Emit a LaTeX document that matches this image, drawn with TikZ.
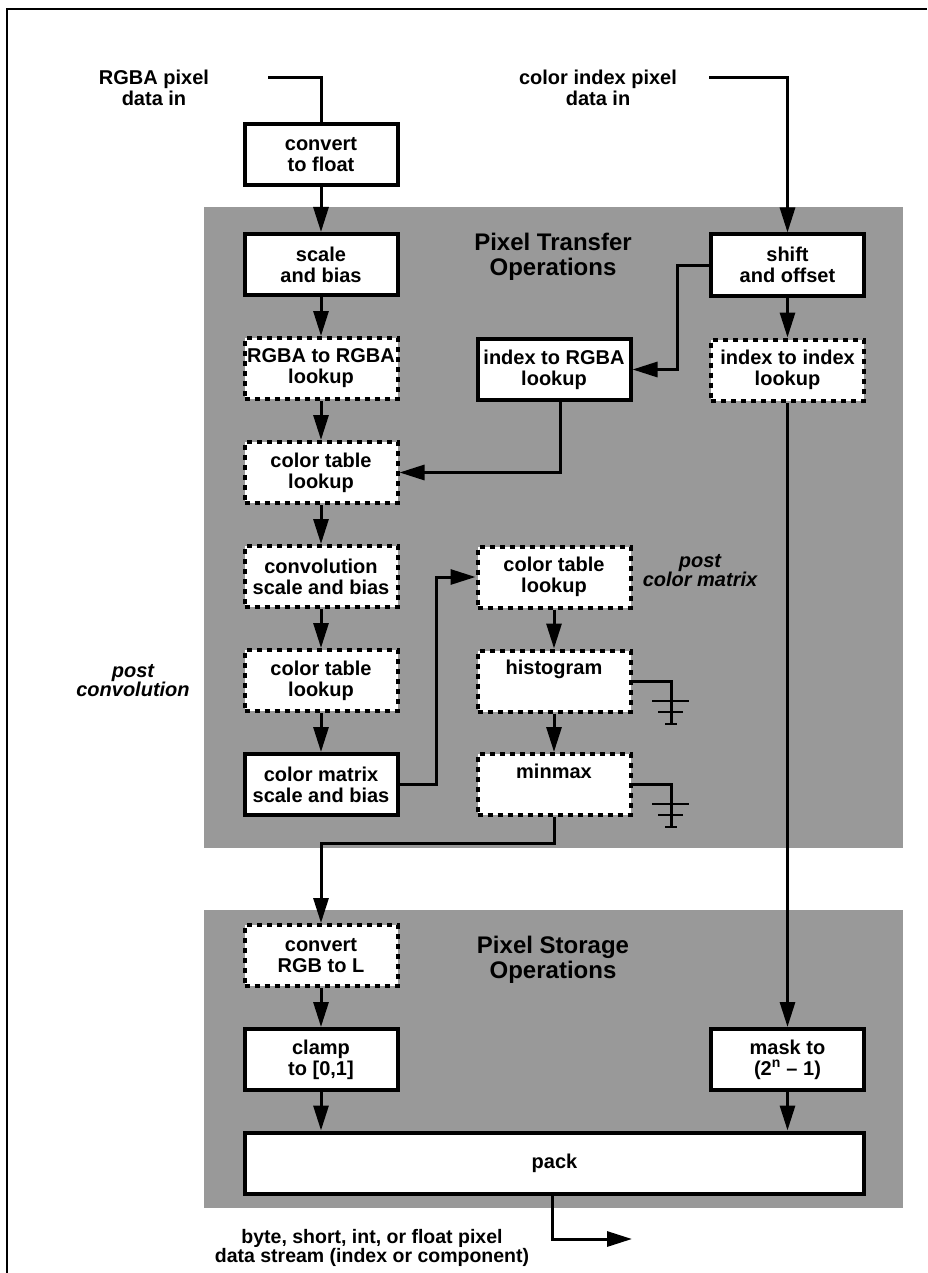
\documentclass[tikz,border=0pt]{standalone}
\usepackage{fontspec}
\setmainfont{Liberation Sans}
\usetikzlibrary{arrows.meta}
\definecolor{halftone}{gray}{0.6}

\begin{document}
\begin{tikzpicture}[x=1pt,y=-1pt,
  font=\bfseries\fontsize{20}{21}\selectfont,
  box/.style={draw,line width=4pt,fill=white,minimum width=153pt,minimum height=61pt,align=center,inner sep=0pt},
  optbox/.style={box,dash pattern=on 5pt off 5pt},
  flow/.style={line width=3pt,-{Triangle[length=25pt,width=15pt]}},
  wire/.style={line width=3pt},
  earth/.style={line width=1.8pt},
  tag/.style={font=\bfseries\itshape\fontsize{20}{19}\selectfont,align=center},
  title/.style={font=\bfseries\fontsize{24}{25}\selectfont,align=center}]
  \useasboundingbox (0,0) rectangle (927,1273);
  \draw[line width=1.4pt] (7,1273) -- (7,9) -- (927,9);
  \fill[halftone] (204,207) rectangle (903,848);
  \fill[halftone] (204,910) rectangle (903,1208);
  \node[title] (xfer) at (553,257) {Pixel Transfer\\Operations};
  \node[title] (store) at (553,960) {Pixel Storage\\Operations};

  \node[align=center] (rgbtxt) at (154,88) {RGBA pixel\\data in};
  \node[align=center] (citxt) at (598,88) {color index pixel\\data in};
  \coordinate (rgbin) at (268,78);
  \coordinate (ciin) at (709,78);

  \node[box] (conv) at (321,154.5) {convert\\to float};
  \node[box] (scale) at (321,264.5) {scale\\and bias};
  \node[optbox] (rgba) at (321,368.5) {RGBA to RGBA\\lookup};
  \node[optbox] (ctab1) at (321,472.5) {color table\\lookup};
  \node[optbox] (convsb) at (321,576.5) {convolution\\scale and bias};
  \node[optbox] (ctab2) at (321,680.5) {color table\\lookup};
  \node[box] (cmat) at (321,784.5) {color matrix\\scale and bias};
  \node[optbox] (rgbl) at (321,955.5) {convert\\RGB to L};
  \node[box] (clamp) at (321,1059.5) {clamp\\to [0,1]};

  \node[box] (idx2rgba) at (554,369.5) {index to RGBA\\lookup};
  \node[optbox] (ctab3) at (554,577) {color table\\lookup};
  \node[optbox] (hist) at (554,681) {histogram\\\strut};
  \node[optbox] (minmax) at (554,784.5) {minmax\\\strut};

  \node[box] (shift) at (787.5,265) {shift\\and offset};
  \node[optbox] (idx2idx) at (787.5,370) {index to index\\lookup};
  \node[box] (mask) at (787.5,1059.5) {mask to\\(2\textsuperscript{n} -- 1)};

  \node[box,minimum width=619pt] (pack) at (554.5,1163) {pack};

  \node[tag] (postconv) at (133,681) {post\\convolution};
  \node[tag] (postcm) at (700,571) {post\\color matrix};
  \node[align=center,font=\bfseries\fontsize{19.5}{19.5}\selectfont] (outtxt) at (372,1248) {byte, short, int, or float pixel\\data stream (index or component)};

  \draw[wire] (rgbin) -| (conv.north);
  \draw[flow] (ciin) -| (shift.north);
  \draw[flow] (conv) -- (scale);
  \draw[flow] (scale) -- (rgba);
  \draw[flow] (rgba) -- (ctab1);
  \draw[flow] (ctab1) -- (convsb);
  \draw[flow] (convsb) -- (ctab2);
  \draw[flow] (ctab2) -- (cmat);
  \draw[flow] (shift.west) -- ++(-32,0) |- (idx2rgba.east);
  \draw[flow] (shift) -- (idx2idx);
  \draw[flow] ([xshift=6pt]idx2rgba.south) |- (ctab1.east);
  \draw[flow] (cmat.east) -- ++(37,0) |- (ctab3.west);
  \draw[flow] (ctab3) -- (hist);
  \draw[flow] (hist) -- (minmax);
  \draw[flow] (minmax.south) -- ++(0,26) -| (rgbl.north);
  \draw[flow] (rgbl) -- (clamp);
  \draw[flow] (clamp.south) -- (clamp.south |- pack.north);
  \draw[flow] (idx2idx) -- (mask);
  \draw[flow] (mask.south) -- (mask.south |- pack.north);
  \coordinate (out) at (632,1239);
  \draw[flow] ([xshift=-2pt]pack.south) |- (out);

  \coordinate (g1) at (671,724);
  \coordinate (g2) at (671,827);
  \draw[wire] (hist.east) -| (g1);
  \draw[wire] (minmax.east) -| (g2);
  \foreach \g in {g1,g2} {
    \draw[earth] ([xshift=-19pt,yshift=23pt]\g) -- ([xshift=18pt,yshift=23pt]\g);
    \draw[earth] ([xshift=-13pt,yshift=12pt]\g) -- ([xshift=12pt,yshift=12pt]\g);
    \draw[earth] ([xshift=-6pt]\g) -- ([xshift=6pt]\g);
  }
\end{tikzpicture}
\end{document}
